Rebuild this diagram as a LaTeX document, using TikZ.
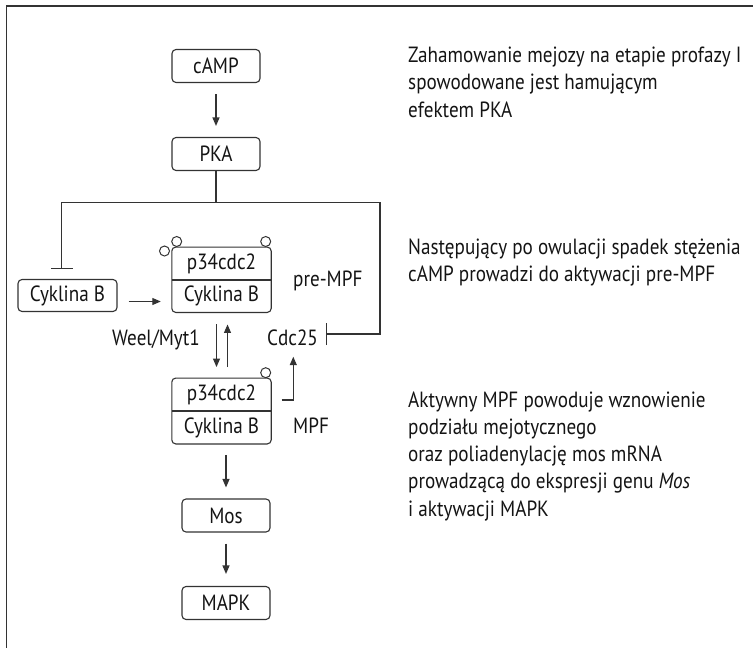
\documentclass[tikz,border=0pt]{standalone}
\usepackage{fontspec}
\setmainfont{PT Sans}[FakeStretch=0.87]
\usetikzlibrary{arrows.meta,calc}
\definecolor{linec}{HTML}{333333}
\definecolor{txt}{HTML}{141414}
\begin{document}
\begin{tikzpicture}[x=1pt,y=-1pt,
  font=\fontsize{22}{27.2}\selectfont,
  box/.style={draw=linec, line width=1.1pt, rounded corners=4pt, minimum width=88pt, minimum height=33pt, inner sep=0pt, text=txt},
  part/.style={minimum width=99pt, minimum height=32.5pt, inner sep=0pt, text=txt},
  phos/.style={circle, draw=linec, fill=white, minimum size=10pt, inner sep=0pt, line width=1pt},
  conn/.style={draw=linec, line width=1.1pt},
  arr/.style={conn, -{Triangle[length=8.5pt,width=7pt]}},
  inh/.style={conn, -{Bar[width=22pt]}},
  lbl/.style={inner sep=0pt, text=txt}]
\useasboundingbox (0,0) rectangle (753,648);
% frame
\draw[linec, line width=1.3pt] (6.3,648) -- (6.3,6) -- (753,6);

% nodes
\node[box] (camp) at (216,66) {cAMP};
\node[box] (pka) at (216,154) {PKA};
\node[box, minimum width=99pt, minimum height=32pt] (cycB) at (67.5,295.5) {Cyklina B};

\node[part] (pre1) at (221.5,263.5) {p34cdc2};
\node[part] (pre2) at (221.5,296) {Cyklina B};
\draw[linec, line width=1.1pt, rounded corners=4pt] (pre1.north west) rectangle (pre2.south east);
\draw[linec, line width=1.1pt] (pre1.south west) -- (pre1.south east);
\node[phos] (ph1) at (176.7,241.5) {};
\node[phos] (ph2) at (265.7,241.5) {};
\node[phos] (ph3) at (164.5,251) {};

\node[part] (mpf1) at (221.5,394.5) {p34cdc2};
\node[part] (mpf2) at (221.5,427.5) {Cyklina B};
\draw[linec, line width=1.1pt, rounded corners=4pt] (mpf1.north west) rectangle (mpf2.south east);
\draw[linec, line width=1.1pt] (mpf1.south west) -- (mpf1.south east);
\node[phos] (ph4) at (265.7,372.7) {};

\node[box] (mos) at (226,515.5) {Mos};
\node[box] (mapk) at (226,603) {MAPK};

% labels
\node[lbl, anchor=base west] (prel) at (293,286) {pre-MPF};
\node[lbl, anchor=base east] (wee) at (200,345) {Weel/Myt1};
\node[lbl, anchor=base west] (cdc) at (267,345) {Cdc25};
\node[lbl, anchor=base west] (mpfl) at (293,433.3) {MPF};

% connectors
\draw[arr, shorten <=11pt, shorten >=11pt] (camp) -- (pka);
\coordinate (jn) at (216,202.5);
\coordinate (jl) at (61.7,202.5);
\coordinate (jr) at (380,202.5);
\coordinate (tl) at (61.7,268.6);
\coordinate (tr) at (326,334);
\draw[conn] (pka.south) -- (jn);
\draw[inh] (jn) -- (jl) -- (tl);
\draw[inh] (jn) -- (jr) |- (tr);
\draw[arr, shorten <=11pt, shorten >=11pt] ([yshift=-6pt]cycB.east) -- ([yshift=-6pt]cycB.east -| pre2.west);
\draw[arr, shorten <=12pt, shorten >=11pt] ([xshift=-5pt]pre2.south) -- ([xshift=-5pt]mpf1.north);
\draw[arr, shorten <=11pt, shorten >=12pt] ([xshift=6pt]mpf1.north) -- ([xshift=6pt]pre2.south);
\coordinate (cdcb) at (293.3,356.7);
\draw[arr] ([xshift=10.5pt,yshift=-5.5pt]mpf1.east) -| (cdcb);
\draw[arr, shorten <=11pt, shorten >=11pt] (mos.north |- mpf2.south) -- (mos.north);
\draw[arr, shorten <=11pt, shorten >=12pt] (mos) -- (mapk);

% right texts (base anchor = baseline of last line)
\node[lbl, anchor=base west, align=left] (t1) at (408,117)
  {Zahamowanie mejozy na etapie profazy I\\spowodowane jest hamującym\\efektem PKA};
\node[lbl, anchor=base west, align=left] (t2) at (408,281.7)
  {Następujący po owulacji spadek stężenia\\cAMP prowadzi do aktywacji pre-MPF};
\node[lbl, anchor=base west, align=left] (t3) at (408,516)
  {Aktywny MPF powoduje wznowienie\\podziału mejotycznego\\oraz poliadenylację mos mRNA\\prowadzącą do ekspresji genu \textit{Mos}\\i aktywacji MAPK};
\end{tikzpicture}
\end{document}
